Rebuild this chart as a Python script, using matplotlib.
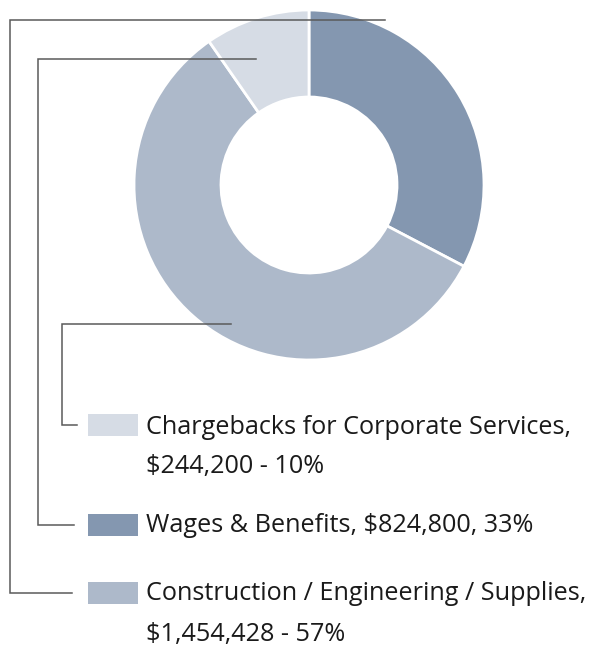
import matplotlib.pyplot as plt
from matplotlib.patches import Rectangle

plt.rcParams['font.family'] = ['Open Sans', 'DejaVu Sans']

# slices, clockwise from 12 o'clock
slice_names = ['Wages & Benefits', 'Construction / Engineering / Supplies',
               'Chargebacks for Corporate Services']
slice_values = [824800, 1454428, 244200]
slice_colors = ['#8497B0', '#ADB9CA', '#D6DCE5']

# legend, top to bottom
legend_labels = ['Chargebacks for Corporate Services,\n\\$244,200 - 10%',
                 'Wages & Benefits, \\$824,800, 33%',
                 'Construction / Engineering / Supplies,\n\\$1,454,428 - 57%']
legend_colors = ['#D6DCE5', '#8497B0', '#ADB9CA']

W, H = 599, 648
fig = plt.figure(figsize=(W / 100, H / 100), dpi=100)
ax = fig.add_axes([0, 0, 1, 1])

def Y(y):
    return H - y

ax.pie(slice_values, colors=slice_colors, startangle=90, counterclock=False,
       center=(309, Y(185)), radius=175,
       wedgeprops=dict(width=87, edgecolor='white', linewidth=2))

# legend boxes + text
box_y = [425, 525, 593]
text_y = [[426, 466], [525], [593, 633]]
for lab, col, by, ty in zip(legend_labels, legend_colors, box_y, text_y):
    ax.add_patch(Rectangle((88, Y(by) - 11), 50, 22, color=col, lw=0))
    lines = lab.split('\n')
    for ln, yy in zip(lines, ty):
        ax.text(146, Y(yy) - 1, ln, fontsize=18.2, va='center', ha='left',
                color='#1a1a1a')

# connector lines
lc = '#5a5a5a'
conn = [
    [(385, 20), (10, 20), (10, 593), (72, 593)],
    [(256, 59), (38, 59), (38, 525), (74, 525)],
    [(231, 324), (62, 324), (62, 425), (77, 425)],
]
for pts in conn:
    xs = [p[0] for p in pts]
    ys = [Y(p[1]) for p in pts]
    ax.plot(xs, ys, color=lc, lw=1.1, solid_joinstyle='miter')

ax.set_xlim(0, W)
ax.set_ylim(0, H)
ax.set_aspect('auto')
ax.axis('off')
fig.savefig('out.png', dpi=100)
